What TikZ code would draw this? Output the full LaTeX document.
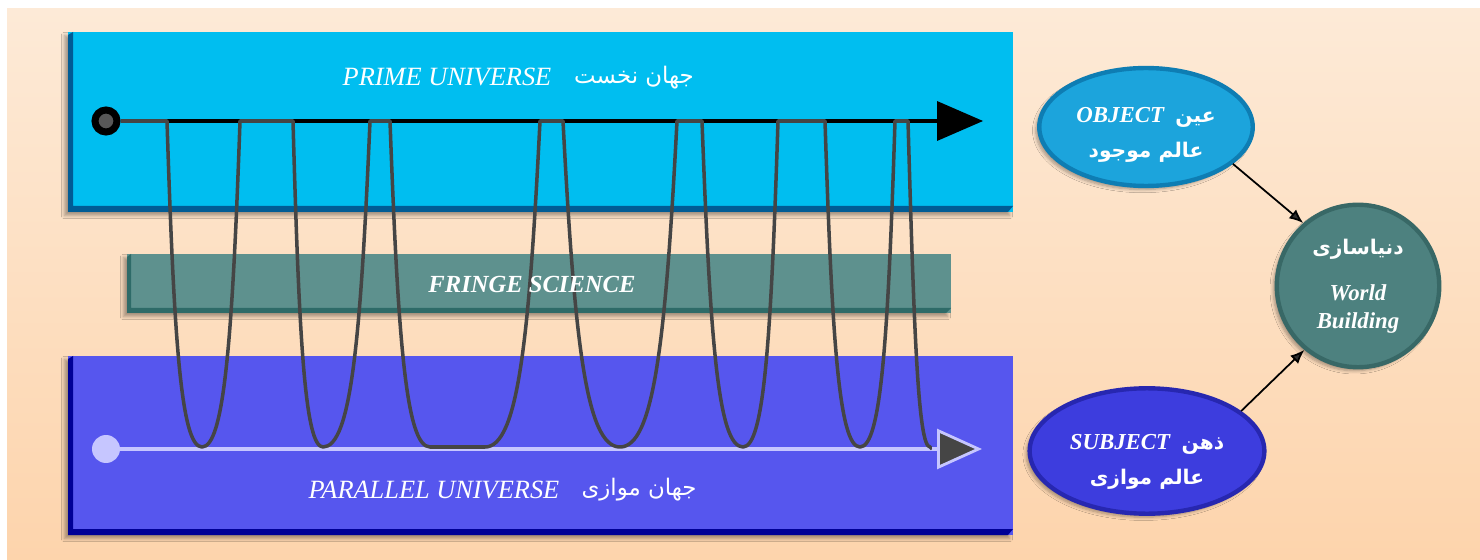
\documentclass[tikz,border=0pt]{standalone}
\usepackage{fontspec}
\setmainfont{Liberation Serif}
\newfontfamily\farsi[Script=Arabic]{DejaVu Sans}
\TeXXeTstate=1
\usetikzlibrary{arrows.meta,shadows.blur,shapes.geometric}
\definecolor{bgtop}{HTML}{FDEAD7}
\definecolor{bgbot}{HTML}{FDD4AC}
\definecolor{primeface}{HTML}{00BEF0}
\definecolor{primeedge}{HTML}{005C95}
\definecolor{fringeface}{HTML}{5E918E}
\definecolor{fringeedge}{HTML}{2E6B68}
\definecolor{parface}{HTML}{5656EE}
\definecolor{paredge}{HTML}{000096}
\definecolor{lav}{HTML}{C6C6FF}
\definecolor{wavegray}{HTML}{454545}
\definecolor{objfill}{HTML}{1CA4DC}
\definecolor{objedge}{HTML}{0E7DB3}
\definecolor{subfill}{HTML}{3D3DDE}
\definecolor{subedge}{HTML}{2727B0}
\definecolor{wbfill}{HTML}{4D817F}
\definecolor{wbedge}{HTML}{386866}

\begin{document}
\begin{tikzpicture}[x=0.02cm,y=-0.02cm,
    entxt/.style={text=white,font=\fontsize{15}{17}\selectfont\itshape},
    fatxt/.style={text=white,font=\fontsize{13}{15}\selectfont\farsi},
    soft/.style={blur shadow={shadow xshift=-2pt,shadow yshift=-2pt,shadow blur steps=6,shadow opacity=35}},
    wave/.style={wavegray,line width=2pt,line join=round},
    bubble/.style={draw=#1edge,fill=#1fill,line width=2.5pt,text=white,align=center,soft,
      font=\fontsize{13}{20}\selectfont\bfseries}]
        % Draw the background
        \fill[white] (0,0) rectangle (1480,560);
        \shade[top color=bgtop,bottom color=bgbot] (7,9) rectangle (1480,560);
        % Draw the three panels
        \fill[primeface,soft] (68,32) rectangle (1013,212);
        \fill[primeedge] (68,35) -- (73,32) -- (73,206) -- (1013,206) -- (1008,212) -- (68,212) -- cycle;
        \fill[fringeface,soft] (127,254) rectangle (951,313);
        \fill[fringeedge] (127,257) -- (131,254) -- (131,308) -- (951,308) -- (946,313) -- (127,313) -- cycle;
        \fill[parface,soft] (68,356) rectangle (1013,535);
        \fill[paredge] (68,359) -- (73,356) -- (73,529) -- (1013,529) -- (1008,535) -- (68,535) -- cycle;
        % Draw the two time lines
        \node[circle,fill=wavegray!90,draw=black,line width=4pt,minimum size=0.44cm,inner sep=0] (pstart) at (106,121) {};
        \coordinate (pend) at (983,121);
        \draw[line width=2.8pt,-{Triangle[length=0.92cm,width=0.8cm,fill=black,line width=0pt]}] (pstart) -- (pend);
        \node[circle,fill=lav,minimum size=0.56cm,inner sep=0] (qstart) at (106,449) {};
        \coordinate (qbase) at (932,449);
        \coordinate (qend) at (982,449);
        \draw[lav,line width=2.8pt] (qstart) -- (qbase);
        % Draw the path between the universes
        \draw[wave] (pstart) -- (167,121)
            .. controls (174,340) and (181,447) .. (202,447)
            .. controls (224,447) and (232.4,340) .. (240,121) -- (293,121)
            .. controls (299,340) and (305,447) .. (323,447)
            .. controls (351,447) and (360.6,340) .. (370,121) -- (390,121)
            .. controls (398,340) and (406,447) .. (430,447) -- (485,447)
            .. controls (518,447) and (529,340) .. (540,121) -- (563,121)
            .. controls (574.4,340) and (586,447) .. (620,447)
            .. controls (654,447) and (665.6,340) .. (677,121) -- (702,121)
            .. controls (710.2,340) and (718,447) .. (743,447)
            .. controls (764,447) and (771,340) .. (778,121) -- (825,121)
            .. controls (832,340) and (839,447) .. (860,447)
            .. controls (881,447) and (888,340) .. (895,121) -- (908,121)
            .. controls (914,330) and (918,447) .. (930,447) -- (qbase);
        \draw[lav,line width=2.8pt,-{Triangle[length=0.9cm,width=0.8cm,fill=wavegray,line width=1.6pt]}] (qbase) -- (qend);
        % Panel titles
        \node[entxt] (primelat) at (447,77) {PRIME UNIVERSE};
        \node[fatxt] (primefa) at (634,78) {\beginR جهان نخست\endR};
        \node[entxt,font=\fontsize{14}{16}\selectfont\bfseries\itshape] (fringe) at (532,284) {FRINGE SCIENCE};
        \node[entxt] (parlat) at (434,490) {PARALLEL UNIVERSE};
        \node[fatxt] (parfa) at (639,490) {\beginR جهان موازی\endR};
        % Object, subject and world building
        \node[bubble=obj,ellipse,minimum width=3.95cm,minimum height=2.3cm] (obj) at (1146,127)
            {\rule{0pt}{18pt}{\itshape OBJECT}\enspace{\farsi\fontsize{11.5}{20}\selectfont\beginR عین\endR}\\
             {\farsi\fontsize{11.5}{20}\selectfont\beginR عالم موجود\endR}};
        \node[bubble=sub,ellipse,minimum width=3.95cm,minimum height=2.3cm] (sub) at (1147,451)
            {\rule{0pt}{21pt}{\itshape SUBJECT}\enspace{\farsi\fontsize{11.5}{20}\selectfont\beginR ذهن\endR}\\
             {\farsi\fontsize{11.5}{20}\selectfont\beginR عالم موازی\endR}};
        \node[bubble=wb,circle,minimum size=3.25cm] (wb) at (1358,286)
            {{\farsi\fontsize{11.5}{20}\selectfont\beginR دنیاسازی\endR}\\[6pt]{\itshape World}\\[-4pt]{\itshape Building}};
        \draw[line width=1pt,-{Latex[length=8pt,width=6.5pt]}] (obj.-23) -- (wb.131);
        \draw[line width=1pt,-{Latex[length=8pt,width=6.5pt]}] (sub.23) -- (wb.230);
\end{tikzpicture}
\end{document}
